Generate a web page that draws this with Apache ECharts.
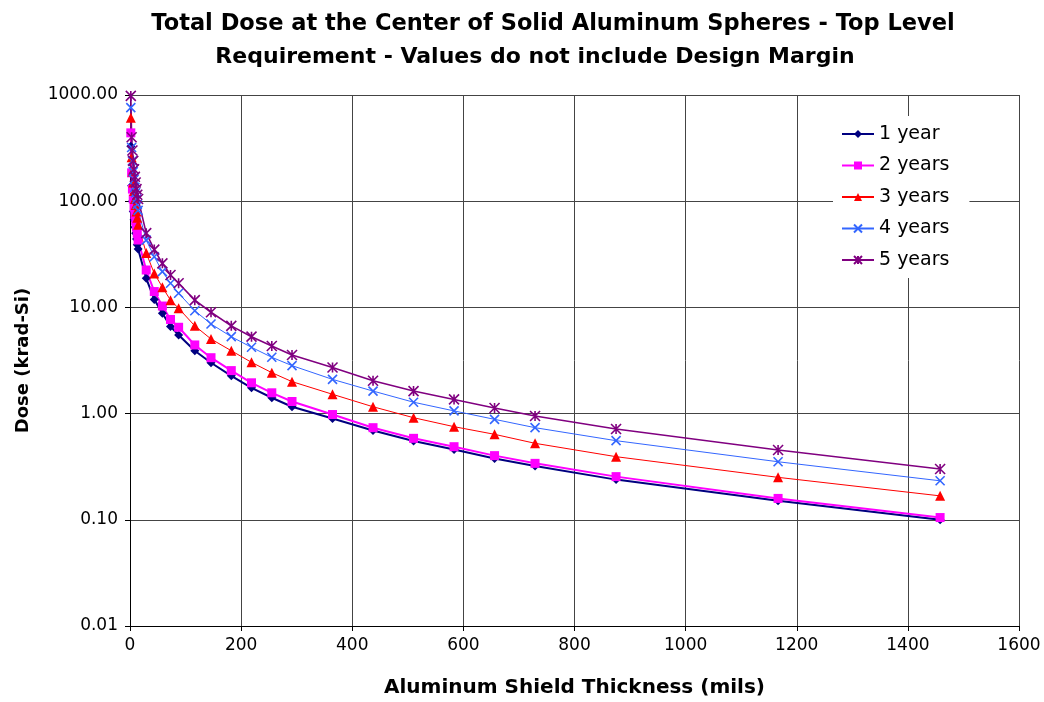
<!DOCTYPE html>
<html><head><meta charset="utf-8">
<script src="https://cdn.jsdelivr.net/npm/echarts@6.0.0/dist/echarts.min.js"></script>
<style>html,body{margin:0;padding:0;background:#fff}#c{width:1044px;height:702px}</style>
</head><body><div id="c"></div>
<script>
// Aluminum shield thickness (mils)
const thickness = [1.46, 2.92, 4.37, 5.83, 7.29, 8.75, 10.2, 11.7, 13.1, 14.6, 29.2, 43.7, 58.3, 72.9, 87.5, 116.6, 145.8, 182.3, 218.7, 255.2, 291.6, 364.5, 437.4, 510.3, 583.2, 656.1, 729.0, 874.8, 1166.4, 1458.0];
// Dose (krad-Si)
const year1 = [330, 140, 100, 80, 67, 57, 50, 44, 39, 35.5, 18.8, 11.9, 8.8, 6.6, 5.5, 3.91, 3.01, 2.27, 1.75, 1.41, 1.16, 0.90, 0.693, 0.552, 0.459, 0.378, 0.321, 0.239, 0.151, 0.100];
const year2 = [440, 185, 130, 105, 88, 75, 65, 57, 50, 43.1, 22.5, 14.1, 10.3, 7.7, 6.5, 4.43, 3.36, 2.54, 1.95, 1.57, 1.30, 0.98, 0.737, 0.585, 0.488, 0.402, 0.340, 0.255, 0.159, 0.105];
const year3 = [610, 260, 190, 150, 125, 105, 92, 80, 70, 60, 32.5, 20.9, 15.5, 11.7, 9.8, 6.7, 5.04, 3.91, 3.04, 2.43, 2.0, 1.52, 1.16, 0.915, 0.753, 0.638, 0.525, 0.393, 0.251, 0.168];
const year4 = [760, 320, 240, 190, 160, 135, 120, 105, 93, 82, 43, 30, 21.7, 16.9, 13.6, 9.3, 6.98, 5.3, 4.21, 3.39, 2.83, 2.10, 1.63, 1.28, 1.06, 0.883, 0.737, 0.556, 0.352, 0.233];
const year5 = [980, 400, 300, 240, 200, 170, 150, 130, 115, 105, 50, 35, 26.0, 20.2, 16.9, 11.7, 9.0, 6.7, 5.3, 4.33, 3.56, 2.72, 2.04, 1.63, 1.36, 1.13, 0.949, 0.716, 0.454, 0.301];
const seriesNames = ['1 year', '2 years', '3 years', '4 years', '5 years'];
const titleLines = ['Total Dose at the Center of Solid Aluminum Spheres - Top Level', 'Requirement - Values do not include Design Margin'];
const xTitle = 'Aluminum Shield Thickness (mils)';
const yTitle = 'Dose (krad-Si)';

const FONT = 'DejaVu Sans';
const pairs = arr => thickness.map((x, i) => [x, arr[i]]);
const X_SYM = 'path://M0,0L10,10M10,0L0,10';
const STAR_SYM = 'path://M0,0L10,10M10,0L0,10M5,0L5,10';

const styles = [
  {color: '#000080', symbol: 'diamond', size: 9, width: 2},
  {color: '#FF00FF', symbol: 'rect', size: 9, width: 2},
  {color: '#FF0000', symbol: 'triangle', size: 10, width: 1},
  {color: '#3366FF', symbol: X_SYM, size: 9, width: 1, stroke: true},
  {color: '#800080', symbol: STAR_SYM, size: 10, width: 1.6, stroke: true}
];
const dataSets = [year1, year2, year3, year4, year5];

const chart = echarts.init(document.getElementById('c'), null, {renderer: 'canvas'});
chart.setOption({
  animation: false,
  backgroundColor: '#fff',
  title: [
    {text: titleLines[0], left: 548, top: 8, textAlign: 'center',
     textStyle: {fontFamily: FONT, fontWeight: 'bold', fontSize: 22.5, color: '#000'}},
    {text: titleLines[1], left: 530, top: 41, textAlign: 'center',
     textStyle: {fontFamily: FONT, fontWeight: 'bold', fontSize: 22, color: '#000'}}
  ],
  grid: {left: 130, right: 25, top: 95, bottom: 76, containLabel: false, outerBoundsMode: 'none'},
  legend: {
    orient: 'vertical', left: 833, top: 116, padding: [8, 20, 8, 8],
    backgroundColor: '#fff', itemWidth: 32, itemHeight: 10, itemGap: 11.5,
    textStyle: {fontFamily: FONT, fontSize: 19, color: '#000', lineHeight: 20},
    data: seriesNames
  },
  xAxis: {
    type: 'value', min: 0, max: 1600, interval: 200,
    name: xTitle, nameLocation: 'middle', nameGap: 52,
    nameTextStyle: {fontFamily: FONT, fontWeight: 'bold', fontSize: 20, color: '#000'},
    axisLine: {show: true, lineStyle: {color: '#000', width: 1}},
    axisTick: {show: true, inside: false, length: 5, lineStyle: {color: '#000'}},
    axisLabel: {fontFamily: FONT, fontSize: 17, color: '#000', margin: 11,
      formatter: v => String(v)},
    splitLine: {show: true, lineStyle: {color: '#444', width: 1}}
  },
  yAxis: {
    type: 'log', logBase: 10, min: 0.01, max: 1000, splitNumber: 5,
    name: yTitle, nameLocation: 'middle', nameGap: 98, nameRotate: 90,
    nameTextStyle: {fontFamily: FONT, fontWeight: 'bold', fontSize: 18, color: '#000'},
    axisLine: {show: true, lineStyle: {color: '#000', width: 1}},
    axisTick: {show: true, inside: false, length: 5, lineStyle: {color: '#000'}},
    axisLabel: {fontFamily: FONT, fontSize: 17, color: '#000', margin: 12,
      formatter: v => Number(v).toFixed(2)},
    minorTick: {show: false},
    splitLine: {show: true, lineStyle: {color: '#444', width: 1}}
  },
  series: dataSets.map((arr, i) => {
    const s = styles[i];
    return {
      name: seriesNames[i], type: 'line', data: pairs(arr),
      symbol: s.symbol, symbolSize: s.size, showAllSymbol: true,
      lineStyle: {color: s.color, width: s.width},
      itemStyle: s.stroke ? {color: s.color, borderColor: s.color, borderWidth: 1.6}
                          : {color: s.color, borderWidth: 0},
      emphasis: {disabled: true}
    };
  })
});
</script>
</body></html>
